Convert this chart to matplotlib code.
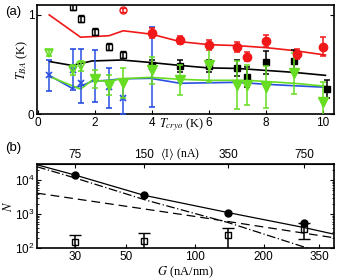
import matplotlib
matplotlib.use("Agg")
import matplotlib.pyplot as plt
import numpy as np

# ---------------- Panel (a) data ----------------
red_line_T = [0.4, 1.5, 2.5, 3.0, 4.0, 5.0, 6.0, 7.0, 8.0, 9.0, 10.1]
red_line_y = [1.00, 0.775, 0.79, 0.84, 0.805, 0.73, 0.70, 0.69, 0.67, 0.64, 0.595]
black_line_T = [0.4, 1.2, 1.9, 2.95, 3.95, 5.0, 6.0, 7.0, 8.0, 9.0, 10.1]
black_line_y = [0.53, 0.49, 0.535, 0.545, 0.52, 0.49, 0.465, 0.46, 0.44, 0.42, 0.39]
blue_line_T = [0.4, 1.2, 1.5, 1.9, 2.45, 2.95, 3.95, 5.0, 6.0, 7.0, 8.0, 9.0, 10.1]
blue_line_y = [0.39, 0.26, 0.28, 0.33, 0.34, 0.355, 0.36, 0.31, 0.315, 0.32, 0.30, 0.285, 0.27]
green_line_T = [0.4, 1.5, 1.9, 2.45, 2.95, 3.95, 5.0, 6.0, 7.35, 9.0, 10.1]
green_line_y = [0.38, 0.25, 0.34, 0.33, 0.355, 0.37, 0.35, 0.34, 0.34, 0.31, 0.28]

red_T = [4, 5, 6, 7, 7.35, 8, 9.1, 10]
red_y = [0.815, 0.75, 0.70, 0.68, 0.58, 0.74, 0.61, 0.68]
red_err = [0.05, 0.04, 0.05, 0.05, 0.05, 0.06, 0.05, 0.095]
red_open_T = [3]
red_open_y = [1.05]
red_open_err = [0.02]

black_open_T = [1.25, 1.5, 2, 2.5, 3]
black_open_y = [1.08, 0.96, 0.83, 0.68, 0.60]
black_open_err = [0.035, 0.035, 0.035, 0.035, 0.035]
black_T = [4, 5, 6, 7, 7.35, 8, 9, 10.15]
black_y = [0.49, 0.48, 0.48, 0.46, 0.37, 0.52, 0.53, 0.25]
black_err = [0.05, 0.06, 0.06, 0.08, 0.10, 0.12, 0.12, 0.09]

blue_T = [0.4, 1.25, 1.5, 2, 2.5, 3, 4]
blue_y = [0.39, 0.44, 0.31, 0.36, 0.27, 0.16, 0.47]
blue_err_lo = [0.155, 0.20, 0.20, 0.24, 0.21, 0.16, 0.40]
blue_err_hi = [0.155, 0.22, 0.35, 0.29, 0.19, 0.18, 0.41]

green_open_T = [0.4, 1.25, 1.5]
green_open_y = [0.62, 0.44, 0.48]
green_open_err = [0.03, 0.05, 0.05]
green_T = [2, 2.5, 3, 4, 5, 6, 7, 7.35, 8, 9, 10]
green_y = [0.35, 0.29, 0.31, 0.44, 0.34, 0.49, 0.29, 0.29, 0.27, 0.41, 0.12]
green_err = [0.09, 0.10, 0.15, 0.14, 0.15, 0.17, 0.24, 0.20, 0.21, 0.21, 0.20]

# ---------------- Panel (b) data ----------------
G_pts = [30, 60, 140, 300]
N_circ = [14000, 3550, 1070, 540]
N_sq = [148, 165, 235, 355]
N_sq_err = [87, 115, 165, 175]
solid_G = [20.5, 30, 60, 140, 300, 406]
solid_N = [28000, 14000, 3560, 1100, 400, 255]
dashdot_G = [20.5, 30, 62, 140, 310, 330]
dashdot_N = [24500, 11500, 2500, 560, 100, 88]
dashed_G = [20.5, 100, 406]
dashed_N = [4100, 850, 200]
I_ticks = [75, 150, 350, 750]
I_per_G = 2.5

RED = "#f01818"
BLUE = "#2a4fe0"
GREEN = "#66dd22"

plt.rcParams["mathtext.fontset"] = "stix"
plt.rcParams["font.family"] = "Liberation Sans"

fig = plt.figure(figsize=(3.41, 2.79), dpi=100)
ax = fig.add_axes([37/341, 1-114/279, 297/341, 109/279])

lw = 1.2
ax.plot(red_line_T, red_line_y, color=RED, lw=lw, zorder=2)
ax.plot(black_line_T, black_line_y, color="black", lw=lw, zorder=2)
ax.plot(blue_line_T, blue_line_y, color=BLUE, lw=lw, zorder=2)
ax.plot(green_line_T, green_line_y, color=GREEN, lw=lw, zorder=2)

ek = dict(capsize=2.2, elinewidth=1.1, capthick=1.1, linestyle="none")
ax.errorbar(blue_T, blue_y, yerr=[blue_err_lo, blue_err_hi], color=BLUE,
            marker="x", ms=5, mew=1.2, zorder=3, **ek)
ax.errorbar(black_open_T, black_open_y, yerr=black_open_err, color="black",
            marker="s", ms=4.5, mfc="none", mew=1.0, zorder=3, **ek)
ax.errorbar(black_T, black_y, yerr=black_err, color="black",
            marker="s", ms=5, zorder=3, **ek)
ax.errorbar(red_T, red_y, yerr=red_err, color=RED,
            marker="o", ms=6, zorder=4, **ek)
ax.errorbar(red_open_T, red_open_y, yerr=red_open_err, color=RED,
            marker="o", ms=5, mfc="none", mew=1.0, zorder=4, **ek)
ax.errorbar(green_open_T, green_open_y, yerr=green_open_err, color=GREEN,
            marker="v", ms=6, mfc="none", mew=1.2, zorder=4, **ek)
ax.errorbar(green_T, green_y, yerr=green_err, color=GREEN,
            marker="v", ms=7, zorder=4, **ek)

ax.set_xlim(-0.03, 10.4)
ax.set_ylim(0, 1.1)
ax.set_xticks([0, 2, 4, 6, 8, 10])
ax.set_yticks([0, 1])
ax.tick_params(direction="in", length=3, labelsize=8.5, right=True, pad=2)
for s in ax.spines.values():
    s.set_linewidth(1.2)
ax.set_ylabel(r"$T_{BA}$ (K)", fontsize=9, family="Liberation Serif", labelpad=-2)
ax.text(0.485, -0.1, r"$T_{cryo}$ (K)", transform=ax.transAxes, ha="center",
        va="center", fontsize=9, family="Liberation Serif")
fig.text(5/341, 1-12/279, "(a)", fontsize=9.5, va="center", ha="left")

# ---------------- Panel (b) ----------------
bx = fig.add_axes([37/341, 1-248/279, 297/341, 84/279])
bx.set_xscale("log")
bx.set_yscale("log")
bx.plot(solid_G, solid_N, color="black", lw=0.9)
bx.plot(dashdot_G, dashdot_N, color="black", lw=0.9, linestyle=(0, (7, 2, 1, 2)))
bx.plot(dashed_G, dashed_N, color="black", lw=0.9, linestyle=(0, (7, 4)))
bx.plot(G_pts, N_circ, "o", color="black", ms=5, zorder=4)
bx.errorbar(G_pts, N_sq, yerr=N_sq_err, color="black", marker="s", ms=5,
            mfc="none", mew=1.0, capsize=4, elinewidth=1.1, capthick=1.1,
            linestyle="none", zorder=3)
bx.set_xlim(20.5, 406)
bx.set_ylim(100, 29500)
bx.set_xticks([30, 50, 100, 200, 350])
bx.set_xticklabels(["30", "50", "100", "200", "350"])
bx.xaxis.set_minor_locator(matplotlib.ticker.NullLocator())
bx.tick_params(which="both", direction="in", labelsize=8.5, right=True, pad=2)
bx.tick_params(which="major", length=3)
bx.tick_params(which="minor", length=1.5)
for s in bx.spines.values():
    s.set_linewidth(1.2)
bx.set_ylabel(r"$N$", fontsize=9, labelpad=0)
bx.set_xlabel(r"$G$ (nA/nm)", fontsize=9, family="Liberation Serif", labelpad=1)

top = bx.secondary_xaxis("top", functions=(lambda g: np.asarray(g) * I_per_G,
                                           lambda i: np.asarray(i) / I_per_G))
top.set_xticks(I_ticks)
top.set_xticklabels([str(v) for v in I_ticks])
top.xaxis.set_minor_locator(matplotlib.ticker.NullLocator())
top.tick_params(direction="in", length=3, labelsize=8.5, pad=2)
fig.text(180/341, 1-154/279, r"$\langle$I$\rangle$ (nA)", fontsize=8.5,
         family="Liberation Serif", ha="center", va="center")
fig.text(5/341, 1-148/279, "(b)", fontsize=9.5, va="center", ha="left")

fig.savefig("out.png", dpi=100)
